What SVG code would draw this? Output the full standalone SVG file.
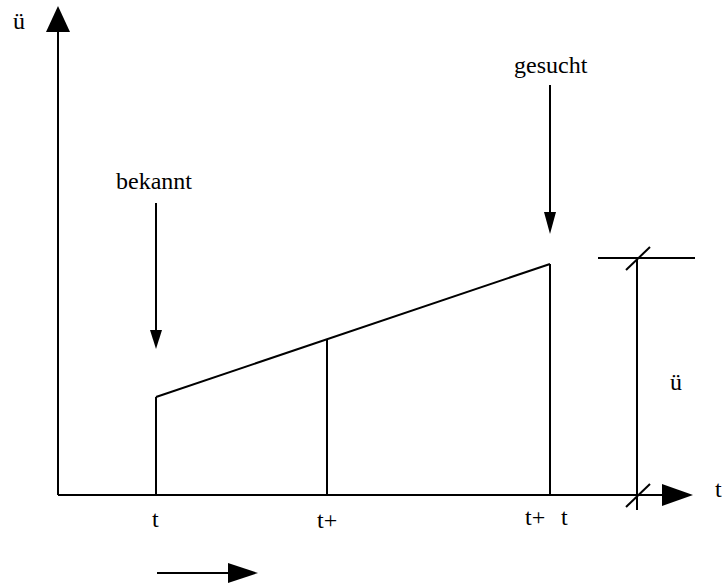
<svg xmlns="http://www.w3.org/2000/svg" width="722" height="587" viewBox="0 0 722 587">
<defs>
<style>
.l{stroke:#000;stroke-width:2;fill:none}
.h{fill:#000;stroke:none}
text{font-family:"Liberation Serif","Times New Roman",serif;font-size:24px;fill:#000}
</style>
</defs>
<rect width="722" height="587" fill="#fff"/>
<g id="connectors">
<line class="l" x1="58" y1="495" x2="58" y2="30"/>
<polygon class="h" points="58,6 46,32 70,32"/>
<line class="l" x1="58" y1="495" x2="664" y2="495"/>
<polygon class="h" points="693,495 662,484 662,506"/>
<line class="l" x1="156" y1="203" x2="156" y2="332"/>
<polygon class="h" points="156,349 150,330 162,330"/>
<line class="l" x1="550" y1="85" x2="550" y2="215"/>
<polygon class="h" points="550,234 544,212 556,212"/>
<line class="l" x1="157" y1="573" x2="230" y2="573"/>
<polygon class="h" points="258,573 228,563 228,583"/>
</g>
<g id="graph">
<line class="l" x1="156" y1="495" x2="156" y2="397"/>
<line class="l" x1="156" y1="397" x2="550" y2="264"/>
<line class="l" x1="327" y1="495" x2="327" y2="339"/>
<line class="l" x1="550" y1="495" x2="550" y2="264"/>
</g>
<g id="dimension">
<line class="l" x1="598" y1="258" x2="695" y2="258"/>
<line class="l" x1="637" y1="258" x2="637" y2="510"/>
<line class="l" x1="626" y1="270" x2="650" y2="247"/>
<line class="l" x1="626" y1="507" x2="650" y2="484"/>
</g>
<g id="labels">
<text x="13" y="29">ü</text>
<text x="514" y="73">gesucht</text>
<text x="116" y="189">bekannt</text>
<text x="670" y="390">ü</text>
<text x="715" y="497">t</text>
<text x="152" y="527">t</text>
<text x="317" y="528">t+</text>
<text x="525" y="525">t+</text>
<text x="561" y="525">t</text>
</g>
</svg>
